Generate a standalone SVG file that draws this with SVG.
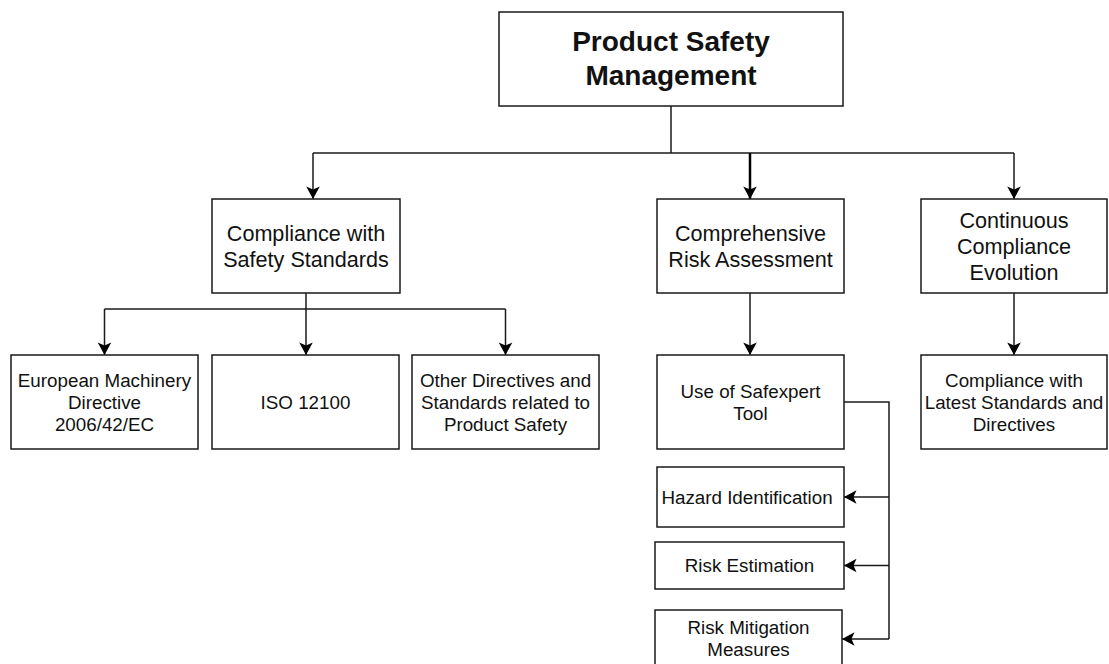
<svg xmlns="http://www.w3.org/2000/svg" width="1109" height="664" viewBox="0 0 1109 664">
  <style>
    .box { fill: #ffffff; stroke: #1a1a1a; stroke-width: 1.5; }
    .t1 { font-family: "Liberation Sans", Arial, sans-serif; font-size: 28px; font-weight: bold; fill: #111; text-anchor: middle; }
    .t2 { font-family: "Liberation Sans", Arial, sans-serif; font-size: 21.6px; fill: #111; text-anchor: middle; }
    .t3 { font-family: "Liberation Sans", Arial, sans-serif; font-size: 18.8px; fill: #111; text-anchor: middle; }
    .edge { fill: none; stroke: #1a1a1a; stroke-width: 1.5; }
    .arrow { fill: none; stroke: #1a1a1a; stroke-width: 1.5; marker-end: url(#head); }
    .thick { fill: none; stroke: #000; stroke-width: 2.5; marker-end: url(#head); }
  </style>
  <defs>
    <marker id="head" markerUnits="userSpaceOnUse" markerWidth="15" markerHeight="15" viewBox="0 -7.5 13 15" refX="12.5" refY="0" orient="auto">
      <path d="M0,-6.8 L12.5,0 L0,6.8 L3,0 Z" fill="#000"/>
    </marker>
  </defs>
  <rect width="1109" height="664" fill="#ffffff"/>

  <!-- connectors -->
  <g id="connectors">
    <path class="edge" d="M671,106 V153"/>
    <path class="edge" d="M313,153 H1014"/>
    <path class="arrow" d="M313,153 V199"/>
    <path class="thick" d="M750,153 V199"/>
    <path class="arrow" d="M1014,153 V199"/>

    <path class="edge" d="M306,293 V309"/>
    <path class="edge" d="M104.5,309 H505.5"/>
    <path class="arrow" d="M104.5,309 V355"/>
    <path class="arrow" d="M306,309 V355"/>
    <path class="arrow" d="M505.5,309 V355"/>

    <path class="arrow" d="M750,293 V355"/>
    <path class="arrow" d="M1014,293 V355"/>

    <path class="edge" d="M844,402 H889 V639"/>
    <path class="arrow" d="M889,497 H844"/>
    <path class="arrow" d="M889,565.5 H844"/>
    <path class="arrow" d="M889,639 H842"/>
  </g>

  <g id="node-root">
    <rect class="box" x="499" y="12" width="344" height="94"/>
    <text class="t1" x="671" y="51">Product Safety</text>
    <text class="t1" x="671" y="84.5">Management</text>
  </g>

  <g id="node-compliance">
    <rect class="box" x="212" y="199" width="188" height="94"/>
    <text class="t2" x="306" y="240.6">Compliance with</text>
    <text class="t2" x="306" y="266.6">Safety Standards</text>
  </g>

  <g id="node-risk-assessment">
    <rect class="box" x="657" y="199" width="187" height="94"/>
    <text class="t2" x="750.5" y="240.6">Comprehensive</text>
    <text class="t2" x="750.5" y="266.6">Risk Assessment</text>
  </g>

  <g id="node-evolution">
    <rect class="box" x="921" y="199" width="186" height="94"/>
    <text class="t2" x="1014" y="227.6">Continuous</text>
    <text class="t2" x="1014" y="253.6">Compliance</text>
    <text class="t2" x="1014" y="279.6">Evolution</text>
  </g>

  <g id="node-machinery-directive">
    <rect class="box" x="11" y="355" width="187" height="94"/>
    <text class="t3" x="104.5" y="386.5">European Machinery</text>
    <text class="t3" x="104.5" y="408.5">Directive</text>
    <text class="t3" x="104.5" y="430.5">2006/42/EC</text>
  </g>

  <g id="node-iso">
    <rect class="box" x="212" y="355" width="187" height="94"/>
    <text class="t3" x="305.5" y="408.5">ISO 12100</text>
  </g>

  <g id="node-other-directives">
    <rect class="box" x="412" y="355" width="187" height="94"/>
    <text class="t3" x="505.5" y="386.5">Other Directives and</text>
    <text class="t3" x="505.5" y="408.5">Standards related to</text>
    <text class="t3" x="505.5" y="430.5">Product Safety</text>
  </g>

  <g id="node-safexpert">
    <rect class="box" x="657" y="355" width="187" height="94"/>
    <text class="t3" x="750.5" y="397.5">Use of Safexpert</text>
    <text class="t3" x="750.5" y="419.5">Tool</text>
  </g>

  <g id="node-latest-standards">
    <rect class="box" x="921" y="355" width="186" height="94"/>
    <text class="t3" x="1014" y="386.5">Compliance with</text>
    <text class="t3" x="1014" y="408.5">Latest Standards and</text>
    <text class="t3" x="1014" y="430.5">Directives</text>
  </g>

  <g id="node-hazard">
    <rect class="box" x="657" y="467" width="187" height="60"/>
    <text class="t3" x="747" y="503.5">Hazard Identification</text>
  </g>

  <g id="node-risk-estimation">
    <rect class="box" x="655" y="542" width="189" height="47"/>
    <text class="t3" x="749.5" y="572">Risk Estimation</text>
  </g>

  <g id="node-mitigation">
    <rect class="box" x="655" y="610" width="187" height="58"/>
    <text class="t3" x="748.5" y="634">Risk Mitigation</text>
    <text class="t3" x="748.5" y="656">Measures</text>
  </g>
</svg>
